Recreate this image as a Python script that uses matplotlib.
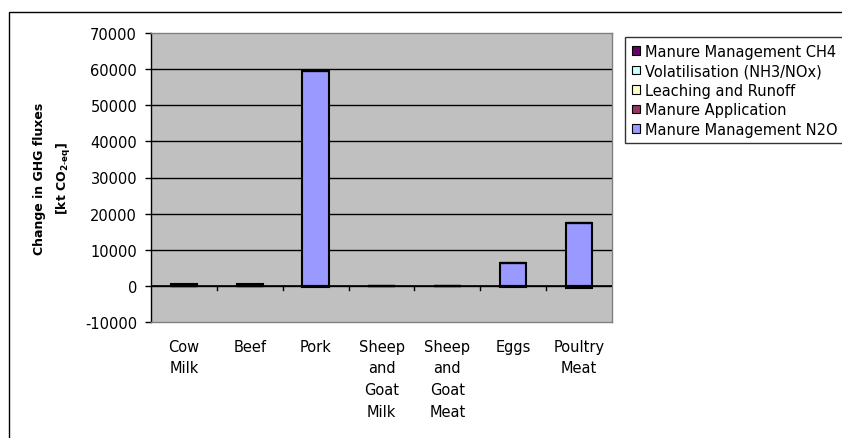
import matplotlib
matplotlib.use("Agg")
import matplotlib.pyplot as plt
from matplotlib.patches import Rectangle
import numpy as np

categories = ["Cow\nMilk", "Beef", "Pork", "Sheep\nand\nGoat\nMilk",
              "Sheep\nand\nGoat\nMeat", "Eggs", "Poultry\nMeat"]
manure_mgmt_n2o = [0, 0, 59500, 0, 0, 6200, 17300]
manure_application = [0, 0, 0, 0, 0, 0, 0]
leaching_runoff = [0, 0, 0, 0, 0, 0, 0]
volatilisation = [0, 0, 0, 0, 0, 0, 0]
manure_mgmt_ch4 = [600, 500, -300, 0, 0, -300, -700]

series = [
    ("Manure Management N2O", manure_mgmt_n2o, "#9999FF"),
    ("Manure Application", manure_application, "#993366"),
    ("Leaching and Runoff", leaching_runoff, "#FFFFCC"),
    ("Volatilisation (NH3/NOx)", volatilisation, "#CCFFFF"),
    ("Manure Management CH4", manure_mgmt_ch4, "#660066"),
]
yticks = [-10000, 0, 10000, 20000, 30000, 40000, 50000, 60000, 70000]

plt.rcParams['font.family'] = ['DejaVu Sans']
plt.rcParams['mathtext.fontset'] = 'dejavusans'

fig = plt.figure(figsize=(8.42, 4.39), dpi=100)
fig.patch.set_facecolor("white")
fig.patches.append(Rectangle((9/842, -0.2), 1.2, 1.2 - 13/439, transform=fig.transFigure,
                             fill=False, edgecolor="black", linewidth=1.0, zorder=0))

ax = fig.add_axes([151/842, 1 - 323/439, (612 - 151)/842, (323 - 34)/439])
ax.set_facecolor("#C0C0C0")
x = np.arange(len(categories))
pos_bottom = np.zeros(len(categories))
neg_bottom = np.zeros(len(categories))
handles = {}
for name, vals, col in series:
    v = np.array(vals, dtype=float)
    bottoms = np.where(v >= 0, pos_bottom, neg_bottom)
    h = ax.bar(x, v, width=0.4, bottom=bottoms, color=col, edgecolor="black",
               linewidth=1.5, zorder=3, label=name)
    handles[name] = h
    pos_bottom = pos_bottom + np.where(v >= 0, v, 0)
    neg_bottom = neg_bottom + np.where(v < 0, v, 0)

ax.set_xlim(-0.5, len(categories) - 0.5)
ax.set_ylim(-10000, 70000)
ax.set_yticks(yticks)
ax.set_yticklabels([str(t) for t in yticks], fontsize=10.5)
ax.tick_params(axis='y', direction='out', length=4, width=1, pad=6)
ax.set_xticks([])
for t in yticks:
    if -10000 < t < 70000:
        ax.axhline(t, color="black", linewidth=1.0, zorder=1)
ax.axhline(0, color="black", linewidth=1.2, zorder=4)
for b in np.arange(0.5, len(categories) - 0.5, 1.0):
    ax.plot([b, b], [0, -1100], color="black", linewidth=1.0, zorder=4)

ax.spines['left'].set_color("black")
ax.spines['left'].set_linewidth(1.0)
for s in ['top', 'right', 'bottom']:
    ax.spines[s].set_color("#808080")
    ax.spines[s].set_linewidth(1.0)

for i, c in enumerate(categories):
    ax.text(i, -0.058, c, transform=ax.get_xaxis_transform(), ha='center', va='top',
            fontsize=10.5, linespacing=1.55)

ax.set_ylabel("Change in GHG fluxes\n" + r"[kt CO$_{\mathbf{2}\text{-}\mathbf{eq}}$]",
              fontsize=9, fontweight='bold', multialignment='center', linespacing=1.8)
ax.yaxis.set_label_coords(-0.169, 0.5)

order = ["Manure Management CH4", "Volatilisation (NH3/NOx)", "Leaching and Runoff",
         "Manure Application", "Manure Management N2O"]
leg = fig.legend([handles[n] for n in order], order, loc='upper left',
                 bbox_to_anchor=(625/842, 1 - 38/439), borderaxespad=0,
                 fontsize=10.5, frameon=True, fancybox=False, edgecolor="black",
                 handlelength=0.55, handleheight=0.55, handletextpad=0.4,
                 labelspacing=0.31, borderpad=0.45)
leg.get_frame().set_linewidth(1.0)
for p in leg.get_patches():
    p.set_linewidth(0.8)

fig.savefig("out.png", dpi=100)
